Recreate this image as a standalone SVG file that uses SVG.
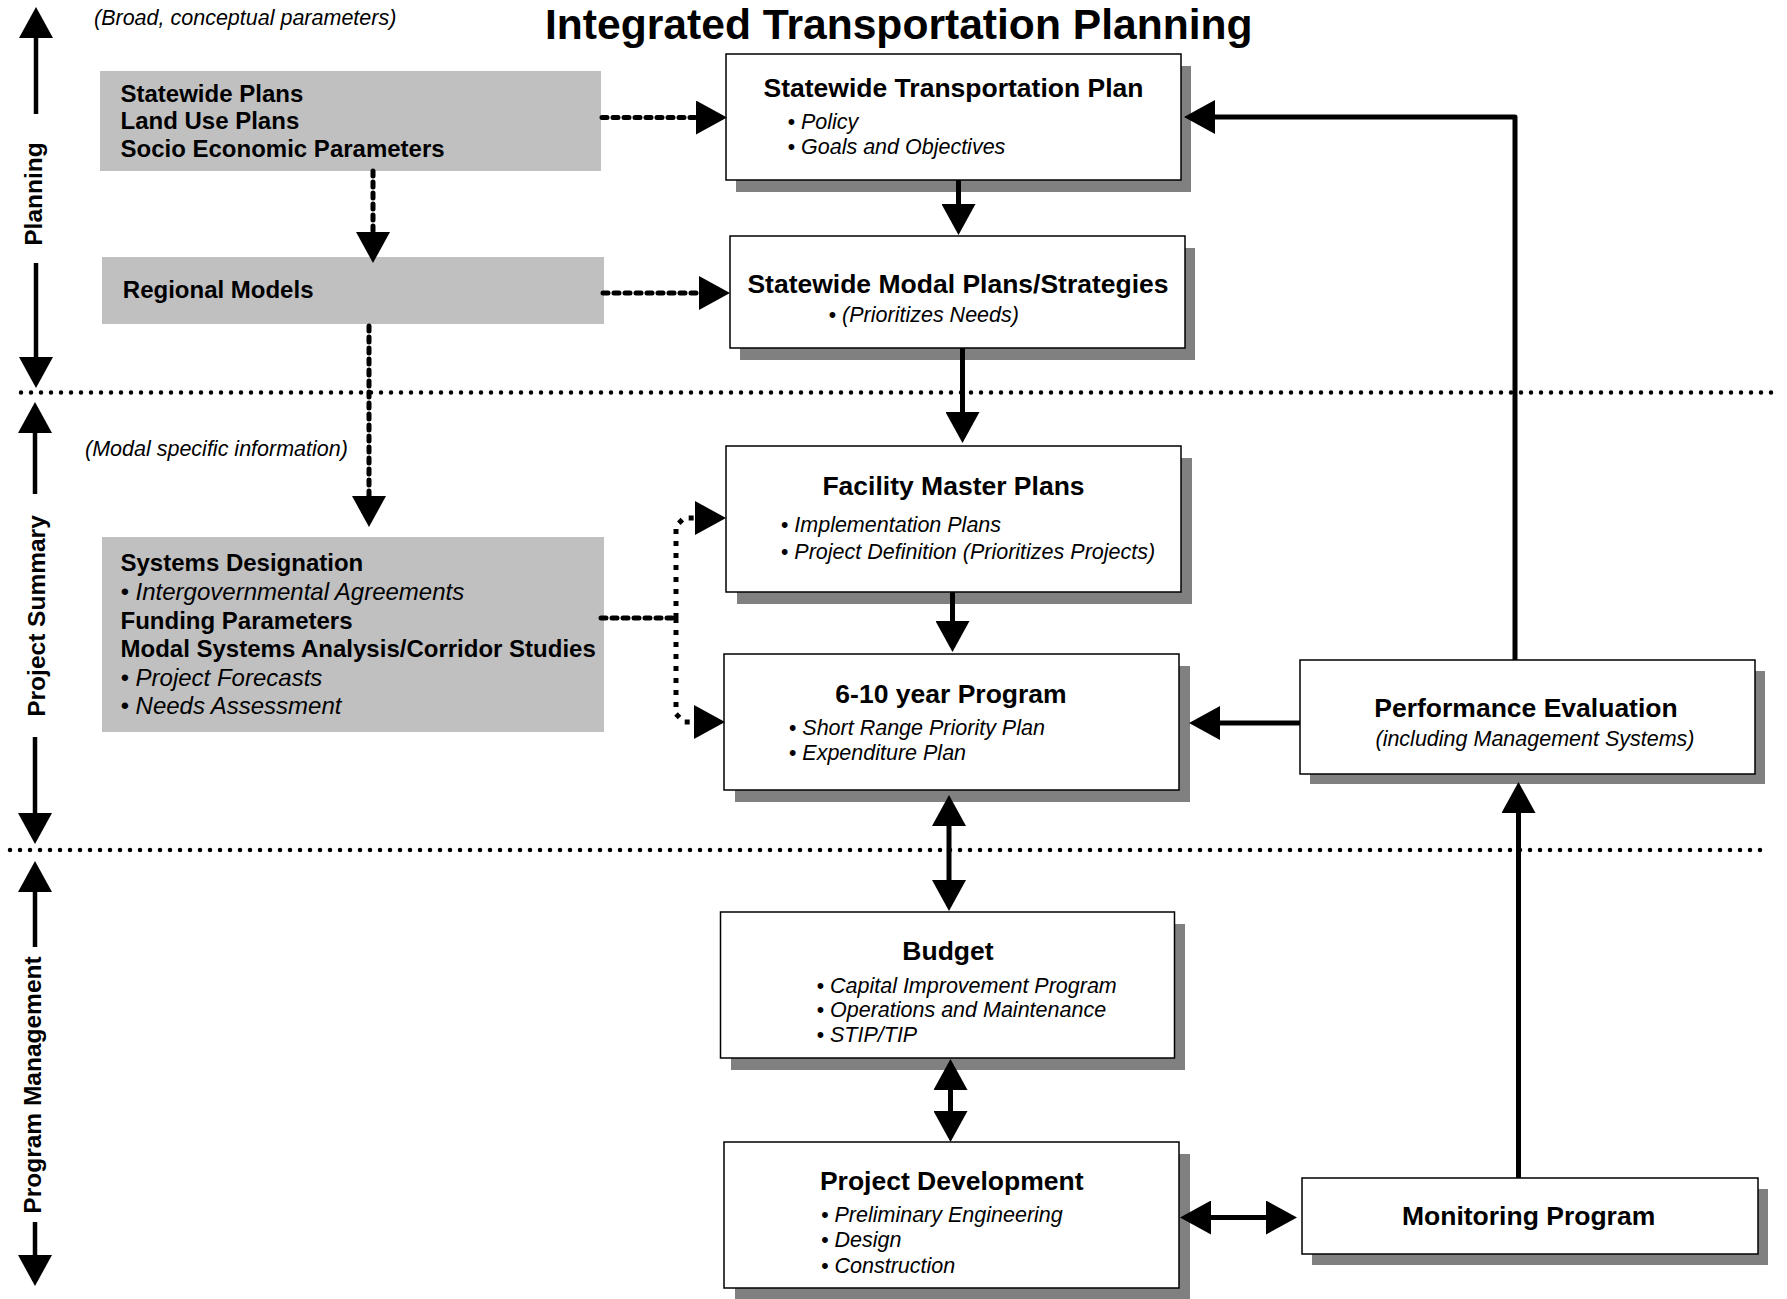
<svg xmlns="http://www.w3.org/2000/svg" width="1787" height="1299" viewBox="0 0 1787 1299">
<defs>
<marker id="ah" viewBox="0 0 31 34" refX="1" refY="17" markerWidth="31" markerHeight="34" markerUnits="userSpaceOnUse" orient="auto-start-reverse"><path d="M0,0L31,17L0,34z" fill="#000"/></marker>
<style>
.box{fill:#fff;stroke:#000;stroke-width:1.5}
.shadow{fill:#808080}
.grey{fill:#c0c0c0}
text{font-family:"Liberation Sans",Arial,Helvetica,sans-serif;fill:#000}
.title{font-size:42.6px;font-weight:bold}
.h{font-size:26.5px;font-weight:bold;text-anchor:middle}
.b{font-size:21.5px;font-style:italic}
.bc{font-size:21.5px;font-style:italic;text-anchor:middle}
.gh{font-size:24px;font-weight:bold}
.gi{font-size:24px;font-style:italic}
.ann{font-size:21.5px;font-style:italic}
.side{font-size:24.5px;font-weight:bold;text-anchor:middle}
.solid{stroke:#000;stroke-width:5;fill:none;stroke-linejoin:round}
.sidearrow{stroke:#000;stroke-width:4.5;fill:none}
.dash{stroke:#000;stroke-width:5;fill:none;stroke-dasharray:5 6;stroke-linecap:round}
.sq{stroke:#000;stroke-width:5;fill:none;stroke-dasharray:5 7}
.sep{stroke:#000;stroke-width:4.5;fill:none;stroke-dasharray:0 10;stroke-linecap:round}
</style>
</defs>
<rect width="1787" height="1299" fill="#fff"/>

<text class="title" x="545" y="39">Integrated Transportation Planning</text>
<text class="ann" x="94" y="25">(Broad, conceptual parameters)</text>
<text class="ann" x="85" y="456">(Modal specific information)</text>

<g id="separators">
<path class="sep" d="M21,392.5H1777"/>
<path class="sep" d="M10,850H1767"/>
</g>

<g id="phase-planning">
<path class="sidearrow" d="M36,114V37" marker-end="url(#ah)"/>
<path class="sidearrow" d="M36,263V358" marker-end="url(#ah)"/>
<text class="side" transform="translate(42,194) rotate(-90)">Planning</text>
</g>
<g id="phase-project-summary">
<path class="sidearrow" d="M35,494V432" marker-end="url(#ah)"/>
<path class="sidearrow" d="M35,737V814" marker-end="url(#ah)"/>
<text class="side" transform="translate(45,616) rotate(-90)">Project Summary</text>
</g>
<g id="phase-program-management">
<path class="sidearrow" d="M35,947V891" marker-end="url(#ah)"/>
<path class="sidearrow" d="M35,1222V1256" marker-end="url(#ah)"/>
<text class="side" transform="translate(41,1085) rotate(-90)">Program Management</text>
</g>

<g id="statewide-inputs">
<rect class="grey" x="100" y="71" width="501" height="100"/>
<text class="gh" x="120.5" y="101.5">Statewide Plans</text>
<text class="gh" x="120.5" y="129">Land Use Plans</text>
<text class="gh" x="120.5" y="156.5">Socio Economic Parameters</text>
</g>
<g id="regional-models">
<rect class="grey" x="102" y="257" width="502" height="67"/>
<text class="gh" x="122.8" y="298">Regional Models</text>
</g>
<g id="systems-designation">
<rect class="grey" x="102" y="537" width="502" height="195"/>
<text class="gh" x="120.5" y="571">Systems Designation</text>
<text class="gi" x="120.5" y="600">• Intergovernmental Agreements</text>
<text class="gh" x="120.5" y="628.5">Funding Parameters</text>
<text class="gh" x="120.5" y="657">Modal Systems Analysis/Corridor Studies</text>
<text class="gi" x="120.5" y="686">• Project Forecasts</text>
<text class="gi" x="120.5" y="714">• Needs Assessment</text>
</g>

<g id="statewide-transportation-plan">
<rect class="shadow" x="736" y="66" width="455" height="126"/>
<rect class="box" x="726" y="54" width="455" height="126"/>
<text class="h" x="953.5" y="96.7">Statewide Transportation Plan</text>
<text class="b" x="787.5" y="129">• Policy</text>
<text class="b" x="787.5" y="154.3">• Goals and Objectives</text>
</g>
<g id="statewide-modal-plans">
<rect class="shadow" x="740" y="248" width="455" height="112"/>
<rect class="box" x="730" y="236" width="455" height="112"/>
<text class="h" x="958" y="292.7">Statewide Modal Plans/Strategies</text>
<text class="b" x="828.6" y="321.7">• (Prioritizes Needs)</text>
</g>
<g id="facility-master-plans">
<rect class="shadow" x="737" y="458" width="455" height="146"/>
<rect class="box" x="726" y="446" width="455" height="146"/>
<text class="h" x="953.5" y="495">Facility Master Plans</text>
<text class="b" x="780.8" y="532.3">• Implementation Plans</text>
<text class="b" x="780.8" y="559">• Project Definition (Prioritizes Projects)</text>
</g>
<g id="program-6-10-year">
<rect class="shadow" x="735" y="666" width="455" height="136"/>
<rect class="box" x="724" y="654" width="455" height="136"/>
<text class="h" x="951" y="702.7">6-10 year Program</text>
<text class="b" x="788.8" y="735">• Short Range Priority Plan</text>
<text class="b" x="788.8" y="760">• Expenditure Plan</text>
</g>
<g id="budget">
<rect class="shadow" x="731" y="924" width="454" height="146"/>
<rect class="box" x="720.5" y="912" width="454" height="146"/>
<text class="h" x="948" y="960">Budget</text>
<text class="b" x="816.5" y="992.5">• Capital Improvement Program</text>
<text class="b" x="816.5" y="1017">• Operations and Maintenance</text>
<text class="b" x="816.5" y="1041.5">• STIP/TIP</text>
</g>
<g id="project-development">
<rect class="shadow" x="735" y="1154" width="455" height="146"/>
<rect class="box" x="724" y="1142" width="455" height="146"/>
<text class="h" x="951.7" y="1190">Project Development</text>
<text class="b" x="821" y="1221.7">• Preliminary Engineering</text>
<text class="b" x="821" y="1247.3">• Design</text>
<text class="b" x="821" y="1273.3">• Construction</text>
</g>
<g id="performance-evaluation">
<rect class="shadow" x="1310" y="671" width="455" height="113"/>
<rect class="box" x="1300" y="660" width="455" height="114"/>
<text class="h" x="1526" y="716.7">Performance Evaluation</text>
<text class="bc" x="1535" y="746">(including Management Systems)</text>
</g>
<g id="monitoring-program">
<rect class="shadow" x="1312" y="1189" width="456" height="76"/>
<rect class="box" x="1302" y="1178" width="456" height="76"/>
<text class="h" x="1528.6" y="1225">Monitoring Program</text>
</g>

<g id="connectors">
<path class="dash" d="M602,117.5H697" marker-end="url(#ah)"/>
<path class="dash" d="M373,171V233" marker-end="url(#ah)"/>
<path class="dash" d="M603,293H700" marker-end="url(#ah)"/>
<path class="dash" d="M369,326V497" marker-end="url(#ah)"/>
<path class="dash" d="M601,618H676"/>
<path class="sq" d="M676,618V526L684,518H696" marker-end="url(#ah)"/>
<path class="sq" d="M676,618V714L684,722H695" marker-end="url(#ah)"/>
<path class="solid" d="M958.5,180V205" marker-end="url(#ah)"/>
<path class="solid" d="M962.5,348V413" marker-end="url(#ah)"/>
<path class="solid" d="M952.5,592V622" marker-end="url(#ah)"/>
<path class="solid" d="M949,825V881" marker-start="url(#ah)" marker-end="url(#ah)"/>
<path class="solid" d="M950.5,1089V1112" marker-start="url(#ah)" marker-end="url(#ah)"/>
<path class="solid" d="M1210,1217.5H1267" marker-start="url(#ah)" marker-end="url(#ah)"/>
<path class="solid" d="M1518.5,1178V812" marker-end="url(#ah)"/>
<path class="solid" d="M1300,723H1219" marker-end="url(#ah)"/>
<path class="solid" d="M1515,660V117H1214" marker-end="url(#ah)"/>
</g>
</svg>
